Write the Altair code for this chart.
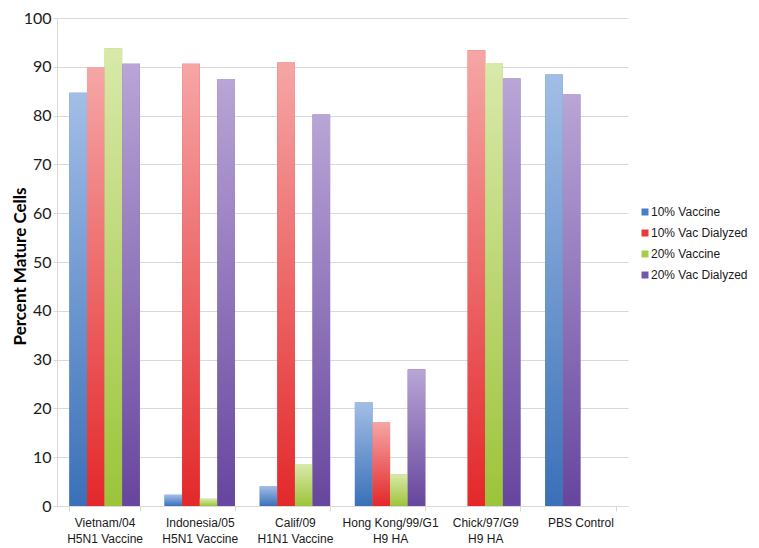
import altair as alt
import pandas as pd

categories = ["Vietnam/04\nH5N1 Vaccine", "Indonesia/05\nH5N1 Vaccine", "Calif/09\nH1N1 Vaccine",
              "Hong Kong/99/G1\nH9 HA", "Chick/97/G9\nH9 HA", "PBS Control"]
series = ["10% Vaccine", "10% Vac Dialyzed", "20% Vaccine", "20% Vac Dialyzed"]

vac10 = [84.7, 2.3, 4.1, 21.3, None, 88.4]
vac10_dial = [89.8, 90.6, 90.9, 17.2, 93.4, None]
vac20 = [93.8, 1.5, 8.5, 6.5, 90.8, None]
vac20_dial = [90.6, 87.5, 80.2, 28.0, 87.6, 84.3]
# position of the purple bar within each group (PBS Control has it in the 2nd slot)
vac20_dial_slot = [3, 3, 3, 3, 3, 1]

legend_colors = ["#4a7ec4", "#e63b3b", "#a6cc4a", "#7455ab"]
grad_top = ["#a2bee6", "#f6a6a6", "#d9e9aa", "#b9a5d6"]
grad_bottom = ["#3a70b8", "#e3282a", "#9cc43a", "#66469e"]

rows = []
all_vals = [vac10, vac10_dial, vac20, vac20_dial]
for j, s in enumerate(series):
    for i, c in enumerate(categories):
        v = all_vals[j][i]
        if v is None:
            continue
        slot = vac20_dial_slot[i] if j == 3 else j
        rows.append({"cat": c, "series": s, "value": v, "slot": slot})
df = pd.DataFrame(rows)

x_enc = alt.X("cat:N", sort=categories,
              scale=alt.Scale(domain=categories, paddingInner=0.26, paddingOuter=0.13),
              axis=alt.Axis(title=None, labelAngle=0, labelExpr="split(datum.label, '\\n')",
                            labelFont="Liberation Sans", labelFontSize=12, labelColor="#1a1a1a",
                            labelLineHeight=16, labelPadding=6, tickBand="extent", tickSize=5,
                            tickColor="#d9d9d9", domainColor="#d9d9d9", grid=False, labelLimit=0))
xo_enc = alt.XOffset("slot:O", scale=alt.Scale(domain=[0, 1, 2, 3]))
y_enc = alt.Y("value:Q", stack=None, scale=alt.Scale(domain=[0, 100]),
              axis=alt.Axis(values=list(range(0, 101, 10)), labelFont="Lato", labelFontSize=16,
                            labelColor="#1a1a1a", labelPadding=2, tickSize=4, tickColor="#d9d9d9",
                            domainColor="#d9d9d9", gridColor="#d9d9d9",
                            title="Percent Mature Cells", titleFont="Lato", titleFontSize=17,
                            titleFontWeight="bold", titleColor="#000000", titleX=-37, titleY=248,
                            titleAngle=270, titleAlign="center", titleBaseline="middle"))

base = alt.Chart(df).encode(x=x_enc, xOffset=xo_enc, y=y_enc)

legend_layer = base.mark_bar().encode(
    color=alt.Color("series:N", scale=alt.Scale(domain=series, range=legend_colors),
                    legend=alt.Legend(title=None, orient="none", legendX=582, legendY=188,
                                      symbolType="square", symbolSize=49,
                                      labelFont="Liberation Sans", labelFontSize=12,
                                      labelColor="#1a1a1a", labelOffset=0, rowPadding=9,
                                      padding=0, symbolStrokeWidth=0, labelLimit=0))
)

grad_layers = []
for j, s in enumerate(series):
    grad = alt.LinearGradient(gradient="linear",
                              stops=[alt.GradientStop(color=grad_top[j], offset=0),
                                     alt.GradientStop(color=grad_bottom[j], offset=1)],
                              x1=0, x2=0, y1=0, y2=1)
    grad_layers.append(base.transform_filter(alt.datum.series == s).mark_bar(color=grad))

chart = alt.layer(legend_layer, *grad_layers).properties(
    width=571, height=488,
    autosize=alt.AutoSizeParams(type="none"),
    padding={"left": 49, "top": 10, "right": 123, "bottom": 38},
).configure_view(strokeWidth=0)

chart.save("out.html", embed_options={"renderer": "svg", "actions": False})
